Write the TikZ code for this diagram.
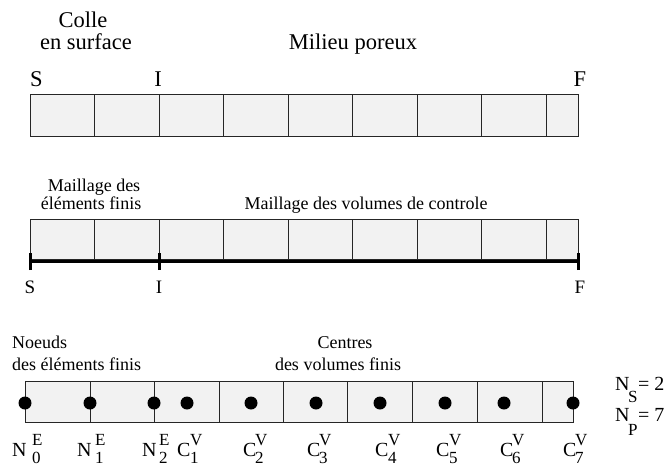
\documentclass[tikz,border=0pt]{standalone}
\usepackage{fontspec}
\setmainfont{Liberation Serif}
\definecolor{cellfill}{RGB}{242,242,242}
\begin{document}
\begin{tikzpicture}[x=1pt,y=-1pt,
  cell/.style={draw=black!85,fill=cellfill,line width=1pt},
  big/.style={inner sep=0pt,font=\fontsize{22.5}{26}\selectfont},
  mid/.style={inner sep=0pt,font=\fontsize{18}{21}\selectfont},
  lett/.style={inner sep=0pt,anchor=base west,font=\fontsize{20}{22}\selectfont},
  idx/.style={inner sep=0pt,anchor=base west,font=\fontsize{17}{19}\selectfont},
  axis/.style={line width=3pt,black},
  dot/.style={circle,fill=black,inner sep=0pt,minimum size=13pt}]
\useasboundingbox (0,0) rectangle (667,466);

% ---------- Row 1 ----------
\foreach \a/\b in {30/94.5,94.5/159,159/223.5,223.5/288,288/352.5,352.5/417,417/481.5,481.5/546,546/578}
  \draw[cell] (\a,94) rectangle (\b,136);
\node[big,anchor=base] (colle) at (83,27) {Colle};
\node[big,anchor=base] (surf) at (86,49) {en surface};
\node[big,anchor=base] (milieu) at (353,49) {Milieu poreux};
\node[big,anchor=base west] (s1) at (30,86) {S};
\node[big,anchor=base] (i1) at (158,86) {I};
\node[big,anchor=base] (f1) at (580,86) {F};

% ---------- Row 2 ----------
\foreach \a/\b in {30/94.5,94.5/159,159/223.5,223.5/288,288/352.5,352.5/417,417/481.5,481.5/546,546/578}
  \draw[cell] (\a,219) rectangle (\b,259);
\coordinate (pS) at (30,261);
\coordinate (pI) at (159,261);
\coordinate (pF) at (578,261);
\draw[axis] (pS) -- (pF);
\foreach \p in {pS,pI,pF}
  \draw[axis] ([yshift=-9pt]\p) -- ([yshift=8pt]\p);
\node[mid,anchor=base] (mef1) at (94,191) {Maillage des};
\node[mid,anchor=base] (mef2) at (91,209) {éléments finis};
\node[mid,anchor=base] (mvc) at (366,209) {Maillage des volumes de controle};
\node[inner sep=0pt,anchor=base,font=\fontsize{19}{21}\selectfont] (s2) at (30,293) {S};
\node[inner sep=0pt,anchor=base,font=\fontsize{19}{21}\selectfont] (i2) at (159,293) {I};
\node[inner sep=0pt,anchor=base,font=\fontsize{19}{21}\selectfont] (f2) at (580,293) {F};

% ---------- Row 3 ----------
\foreach \a/\b in {25/90,90/154,154/219,219/283,283/347,347/412,412/477,477/542,542/573}
  \draw[cell] (\a,381) rectangle (\b,422);
\foreach \x [count=\i] in {25,90,154,187,251,316,380,445,504,573}
  \node[dot] (d\i) at (\x,403) {};
\node[mid,anchor=base west] (noeuds1) at (12,348) {Noeuds};
\node[mid,anchor=base west] (noeuds2) at (12,370) {des éléments finis};
\node[mid,anchor=base] (centres1) at (345,348) {Centres};
\node[mid,anchor=base] (centres2) at (338,370) {des volumes finis};

% node labels
\foreach \l/\x/\s/\e/\k in {N/12/32/E/0,N/77/95/E/1,N/142/159/E/2}{
  \node[lett] (nl\k) at (\x,456) {\l};
  \node[idx] (ns\k) at (\s,445) {\e};
  \node[idx] (nb\k) at (\s,463) {\k};
}
\foreach \x/\s/\k in {177/190/1,243/255/2,307/319/3,375/388/4,436/449/5,500/512/6,563/575/7}{
  \node[lett] (cl\k) at (\x,456) {C};
  \node[idx] (cs\k) at (\s,445) {V};
  \node[idx] (cb\k) at (\s,463) {\k};
}

% N_S, N_P
\node[lett] (nsN) at (615,390) {N};
\node[idx] (nsS) at (628,402) {S};
\node[lett] (nsv) at (638,390) {= 2};
\node[lett] (npN) at (615,421) {N};
\node[idx] (npP) at (628,435) {P};
\node[lett] (npv) at (638,421) {= 7};
\end{tikzpicture}
\end{document}
